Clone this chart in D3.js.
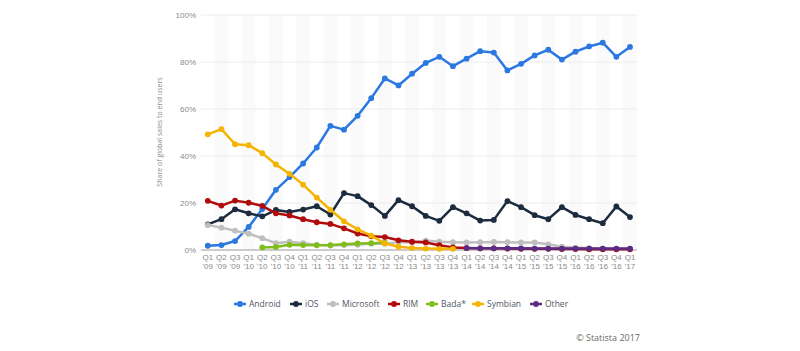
<!DOCTYPE html>
<html>
<head>
<meta charset="utf-8">
<script src="https://cdn.jsdelivr.net/npm/d3@7"></script>
<style>
  body { margin: 0; background: #fff; }
  svg { display: block; font-family: "Open Sans", "DejaVu Sans", sans-serif; }
</style>
</head>
<body>
<svg id="chart"></svg>
<script>
var quarters = ["Q1 '09","Q2 '09","Q3 '09","Q1 '10","Q2 '10","Q3 '10","Q4 '10","Q1 '11","Q2 '11","Q3 '11","Q4 '11",
  "Q1 '12","Q2 '12","Q3 '12","Q4 '12","Q1 '13","Q2 '13","Q3 '13","Q4 '13","Q1 '14","Q2 '14","Q3 '14","Q4 '14",
  "Q1 '15","Q2 '15","Q3 '15","Q4 '15","Q1 '16","Q2 '16","Q3 '16","Q4 '16","Q1 '17"];

var android = [1.6,1.9,3.6,9.6,17.2,25.4,30.8,36.6,43.4,52.6,51.0,56.9,64.4,72.8,69.8,74.8,79.4,82.0,78.0,81.2,
  84.4,83.8,76.2,79.0,82.6,85.0,80.8,84.2,86.4,88.0,82.0,86.2];
var ios = [10.7,12.9,17.1,15.4,14.1,16.8,16.0,17.0,18.4,14.9,24.0,22.7,18.9,14.3,21.0,18.4,14.3,12.2,18.0,15.4,
  12.3,12.6,20.6,18.0,14.6,12.9,18.0,14.7,12.9,11.2,18.3,13.8];
var microsoft = [10.4,9.3,8.0,6.7,4.8,2.7,3.3,2.7,2.0,1.7,1.9,2.0,2.5,2.5,3.1,3.1,3.8,3.3,3.1,3.0,
  3.1,3.2,3.1,3.0,3.0,2.2,1.2,0.8,0.6,0.4,0.3,0.2];
var rim = [20.7,18.7,20.8,19.9,18.6,15.4,14.5,12.9,11.6,10.9,9.0,6.8,5.6,5.3,3.9,3.3,3.0,1.8,0.9,0.6,
  0.5,0.5,0.4,0.3,0.3,0.3,0.2,0.2,0.1,0.1,0.1,0.1];
var bada = [null,null,null,null,0.9,1.1,2.0,1.9,1.8,1.9,2.2,2.6,2.7,2.9,
  null,null,null,null,null,null,null,null,null,null,null,null,null,null,null,null,null,null];
var symbian = [49.0,51.2,44.8,44.4,41.0,36.2,32.2,27.6,22.1,16.9,12.0,8.6,5.9,2.6,1.2,0.6,0.4,0.3,0.3,
  null,null,null,null,null,null,null,null,null,null,null,null,null];
var other = [null,null,null,null,null,null,null,null,null,null,null,null,null,null,null,null,null,null,null,
  0.6,0.5,0.5,0.5,0.5,0.4,0.4,0.4,0.4,0.4,0.4,0.4,0.4];

var yTicks = [0,20,40,60,80,100];

var series = [
  {name:'Android', values:android, color:'#2a78e0'},
  {name:'iOS', values:ios, color:'#1c2b3d'},
  {name:'Microsoft', values:microsoft, color:'#bfbfbf'},
  {name:'RIM', values:rim, color:'#b00c0c'},
  {name:'Bada*', values:bada, color:'#80bd1c'},
  {name:'Symbian', values:symbian, color:'#f5b400'},
  {name:'Other', values:other, color:'#5b2b85'}
];

var width = 800, height = 351;
var plotLeft = 201, plotRight = 636.8, plotTop = 14.5, plotBottom = 249.5;

var svg = d3.select('#chart').attr('width', width).attr('height', height);

var xscale = d3.scaleBand().domain(quarters).range([plotLeft, plotRight]).padding(0);
var yscale = d3.scaleLinear().domain([0, 100]).range([plotBottom, plotTop]);
var cx = function(q){ return xscale(q) + xscale.bandwidth() / 2; };

// alternating column bands
svg.append('g').selectAll('rect')
  .data(quarters.filter(function(q, i){ return i % 2 === 1; }))
  .join('rect')
  .attr('x', d => xscale(d))
  .attr('y', plotTop)
  .attr('width', xscale.bandwidth())
  .attr('height', plotBottom - plotTop)
  .attr('fill', '#fafafa');

// gridlines + y labels
var yaxis = d3.axisLeft(yscale).tickValues(yTicks)
  .tickFormat(d => d + '%')
  .tickSize(-(plotRight - plotLeft))
  .tickPadding(5);
var yg = svg.append('g').attr('transform', `translate(${plotLeft},0)`).call(yaxis);
yg.select('.domain').remove();
yg.selectAll('.tick line').attr('stroke', d => d === 0 ? '#9a9a9a' : '#ececec');
yg.selectAll('.tick text').attr('fill', '#8a8a8a').style('font-size', '8px');

svg.append('text')
  .attr('transform', 'translate(162,132) rotate(-90)')
  .attr('text-anchor', 'middle')
  .attr('fill', '#8a8a8a')
  .style('font-size', '7px')
  .text('Share of global sales to end users');

// x labels
var xaxis = d3.axisBottom(xscale).tickSize(0).tickPadding(5);
var xg = svg.append('g').attr('transform', `translate(0,${plotBottom})`).call(xaxis);
xg.select('.domain').remove();
xg.selectAll('.tick text').each(function(d){
  var parts = d.split(' ');
  var t = d3.select(this).text(null).attr('fill', '#8a8a8a').style('font-size', '8px');
  t.append('tspan').attr('x', 0).attr('dy', '0.71em').text(parts[0]);
  t.append('tspan').attr('x', 0).attr('dy', '1.1em').text(parts[1]);
});

// lines and points
var line = d3.line()
  .defined(d => d.v !== null)
  .x(d => cx(d.q))
  .y(d => yscale(d.v));

series.forEach(function(s){
  var pts = s.values.map(function(v, i){ return {q: quarters[i], v: v}; });
  var g = svg.append('g');
  g.append('path')
    .datum(pts)
    .attr('d', line)
    .attr('fill', 'none')
    .attr('stroke', s.color)
    .attr('stroke-width', 2.5)
    .attr('stroke-linejoin', 'round');
  g.selectAll('circle')
    .data(pts.filter(d => d.v !== null))
    .join('circle')
    .attr('cx', d => cx(d.q))
    .attr('cy', d => yscale(d.v))
    .attr('r', 2.9)
    .attr('fill', s.color);
});

// legend
var legendX = [234, 290, 327, 388, 426, 472, 530];
var legend = svg.append('g').selectAll('g')
  .data(series)
  .join('g')
  .attr('transform', (d, i) => `translate(${legendX[i]},304)`);
legend.append('line')
  .attr('x1', 0).attr('x2', 12)
  .attr('stroke', d => d.color)
  .attr('stroke-width', 2.5);
legend.append('circle')
  .attr('cx', 6).attr('r', 2.9)
  .attr('fill', d => d.color);
legend.append('text')
  .attr('x', 15).attr('dy', '0.35em')
  .attr('fill', '#4f5666')
  .style('font-size', '8.5px')
  .text(d => d.name);

svg.append('text')
  .attr('x', 640).attr('y', 341)
  .attr('text-anchor', 'end')
  .attr('fill', '#6a6a6a')
  .style('font-size', '9px')
  .text('\u00A9 Statista 2017');
</script>
</body>
</html>
